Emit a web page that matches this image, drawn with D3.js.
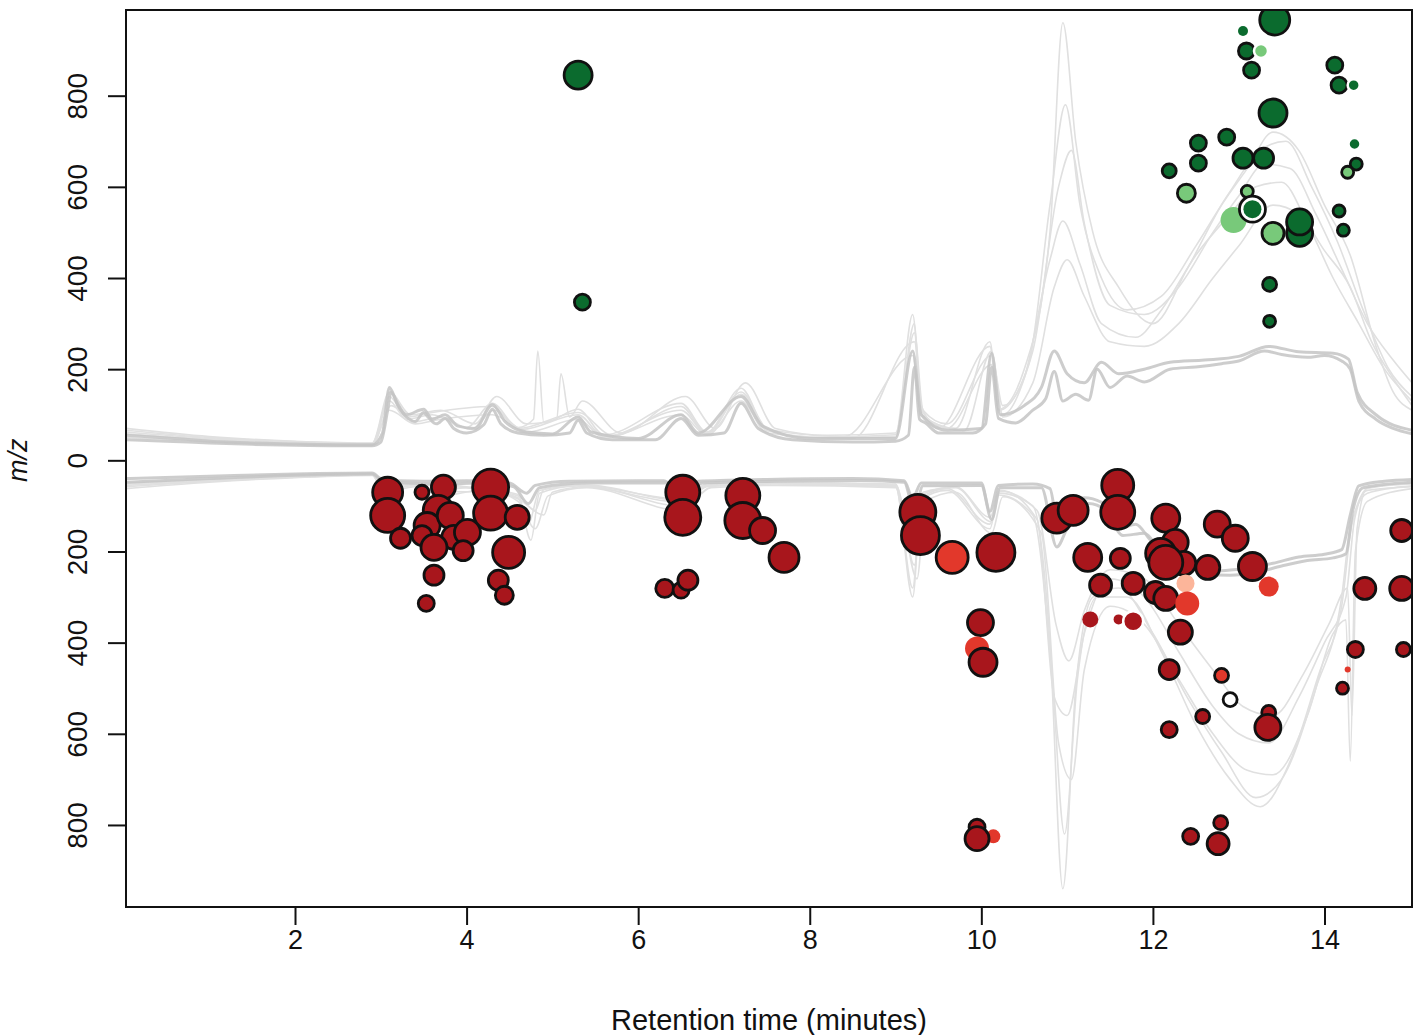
<!DOCTYPE html>
<html><head><meta charset="utf-8">
<script src="https://cdn.jsdelivr.net/npm/d3@7"></script>
<style>body{margin:0;background:#fff}svg{display:block}text{font-family:"Liberation Sans",Arial,sans-serif}</style>
</head><body>
<script>
// ---- tick labels ----
const xTicks = [2,4,6,8,10,12,14];
const yTicks = [-800,-600,-400,-200,0,200,400,600,800];

// ---- chromatogram traces (retention time, signal in m/z-axis units; negative = lower panel) ----
const upMain = [[0.03,45],[0.5,42],[1,38],[1.5,35],[2,33],[2.5,32],[2.9,32],[3.0,40],[3.08,110],[3.12,150],[3.2,120],[3.3,95],[3.4,85],[3.5,105],[3.55,95],[3.65,80],[3.75,92],[3.85,70],[4.0,60],[4.2,78],[4.3,112],[4.4,80],[4.6,60],[4.9,55],[5.2,60],[5.3,88],[5.4,60],[5.7,45],[6.2,45],[6.5,92],[6.7,55],[7.0,60],[7.2,125],[7.4,70],[7.8,45],[8.5,40],[9.0,42],[9.15,55],[9.22,205],[9.28,90],[9.35,82],[9.5,60],[9.9,60],[10.05,80],[10.12,205],[10.2,92],[10.4,82],[10.6,110],[10.75,135],[10.85,195],[10.95,130],[11.1,145],[11.25,132],[11.35,200],[11.5,160],[11.7,185],[11.9,172],[12.2,200],[12.5,205],[12.8,212],[13.0,218],[13.3,240],[13.5,232],[13.8,226],[14.0,230],[14.2,218],[14.3,200],[14.4,130],[14.6,90],[14.8,70],[15.02,58]];
const upMain2 = [[0.03,55],[0.6,48],[1.2,40],[2,36],[2.9,34],[3.02,60],[3.1,160],[3.18,130],[3.3,100],[3.5,112],[3.6,90],[3.75,100],[3.9,75],[4.1,70],[4.3,122],[4.45,85],[4.7,62],[5.0,58],[5.3,95],[5.45,62],[6.0,48],[6.5,100],[6.7,60],[7.2,140],[7.45,75],[8,48],[9.0,48],[9.2,240],[9.3,100],[9.6,66],[10.0,70],[10.12,235],[10.22,100],[10.5,120],[10.7,160],[10.85,240],[11.0,190],[11.2,170],[11.4,215],[11.6,190],[11.9,200],[12.2,215],[12.6,220],[13.0,228],[13.35,250],[13.7,238],[14.1,235],[14.28,222],[14.38,150],[14.6,100],[15.02,66]];
const upFaint = [
 [[0.03,62],[1,48],[2,40],[2.9,36],[3.1,130],[3.3,90],[3.6,100],[4.0,72],[4.3,125],[4.6,72],[4.78,90],[4.83,240],[4.9,82],[5.3,112],[5.6,56],[6.5,125],[6.8,62],[7.2,150],[7.5,70],[8,50],[9,56],[9.2,320],[9.3,120],[9.5,70],[10.1,250],[10.2,112],[10.5,200],[10.8,500],[10.95,960],[11.1,700],[11.3,500],[11.6,380],[12.0,300],[12.4,420],[12.8,560],[13.1,640],[13.4,720],[13.7,680],[14.0,560],[14.3,450],[14.6,250],[14.8,150],[15.02,110]],
 [[0.03,70],[1,52],[2,42],[2.9,38],[3.1,150],[3.35,100],[3.7,110],[4.1,80],[4.35,140],[4.7,80],[5.05,90],[5.1,190],[5.2,95],[5.35,130],[5.8,60],[6.55,140],[6.9,70],[7.25,170],[7.6,70],[8.2,55],[9,60],[9.22,280],[9.32,110],[9.6,80],[10.12,230],[10.25,120],[10.6,240],[10.9,600],[11.05,680],[11.2,520],[11.5,340],[11.9,320],[12.3,380],[12.7,500],[13.0,580],[13.3,650],[13.6,640],[13.9,540],[14.2,420],[14.5,300],[14.8,220],[15.02,170]],
 [[0.03,58],[1,46],[2,39],[2.9,35],[3.12,120],[3.4,85],[3.7,95],[4.05,68],[4.32,110],[4.65,68],[5.3,100],[5.6,52],[6.5,110],[6.8,58],[7.2,145],[7.5,65],[8.2,50],[9.0,52],[9.22,300],[9.3,110],[9.6,70],[10.12,210],[10.25,100],[10.5,180],[10.8,440],[10.95,525],[11.15,430],[11.4,300],[11.8,270],[12.1,330],[12.5,450],[12.9,540],[13.2,600],[13.5,610],[13.8,520],[14.1,400],[14.4,300],[14.7,200],[15.02,130]],
 [[0.03,50],[1,42],[2,37],[2.9,34],[3.1,110],[3.4,80],[3.7,90],[4.3,100],[4.7,62],[5.3,90],[5.6,50],[6.5,100],[6.8,55],[7.2,130],[7.5,60],[8.5,48],[9.22,260],[9.32,95],[9.8,65],[10.12,240],[10.25,95],[10.6,170],[10.85,380],[11.0,440],[11.2,360],[11.5,260],[11.9,250],[12.3,300],[12.7,400],[13.0,470],[13.4,560],[13.7,540],[14.0,460],[14.3,380],[14.55,260],[14.8,180],[15.02,120]],
 [[0.03,66],[1,50],[2,41],[2.9,37],[3.1,140],[3.3,95],[3.6,105],[4.3,118],[4.6,70],[5.3,105],[5.7,55],[6.5,118],[6.8,60],[7.2,158],[7.5,68],[8.4,52],[9.2,230],[9.3,100],[9.7,70],[10.1,260],[10.2,110],[10.55,210],[10.8,560],[10.98,780],[11.15,560],[11.4,400],[11.7,330],[12.1,360],[12.5,470],[12.9,590],[13.25,680],[13.55,700],[13.85,600],[14.15,480],[14.45,330],[14.75,200],[15.02,140]]
];
const downMain = [[0.03,-40],[1,-35],[2,-30],[2.9,-28],[3.0,-40],[3.2,-45],[3.5,-46],[4,-45],[4.5,-50],[4.7,-72],[4.8,-55],[5.2,-46],[6.3,-45],[6.5,-72],[6.7,-46],[7.5,-42],[8.5,-40],[9.1,-45],[9.2,-82],[9.3,-50],[10.0,-50],[10.1,-112],[10.2,-55],[10.6,-52],[10.8,-62],[10.9,-150],[11.0,-122],[11.2,-82],[11.4,-92],[11.6,-150],[11.8,-140],[12.0,-180],[12.2,-190],[12.5,-236],[12.8,-242],[13.1,-236],[13.4,-226],[13.7,-212],[14.0,-206],[14.2,-196],[14.3,-120],[14.4,-56],[14.7,-46],[15.02,-42]];
const downMain2 = [[0.03,-48],[1,-40],[2,-33],[2.9,-30],[3.02,-45],[3.3,-50],[3.7,-52],[4.2,-50],[4.55,-58],[4.72,-95],[4.85,-60],[5.4,-50],[6.35,-50],[6.52,-85],[6.75,-50],[7.6,-46],[8.6,-44],[9.1,-48],[9.22,-110],[9.32,-56],[10.0,-55],[10.12,-130],[10.22,-60],[10.7,-60],[10.88,-190],[11.0,-150],[11.25,-95],[11.45,-110],[11.65,-165],[11.9,-160],[12.1,-200],[12.35,-215],[12.6,-250],[12.9,-252],[13.2,-246],[13.5,-232],[13.8,-220],[14.1,-214],[14.25,-205],[14.33,-110],[14.45,-60],[15.02,-48]];
const downFaint = [
 [[0.03,-55],[1,-45],[2,-36],[2.9,-31],[3.0,-60],[3.3,-52],[3.6,-70],[4.0,-60],[4.6,-82],[4.75,-175],[4.85,-72],[5.3,-56],[6.5,-92],[6.8,-56],[7.5,-50],[9.0,-56],[9.2,-300],[9.3,-82],[9.6,-62],[10.1,-140],[10.2,-72],[10.6,-100],[10.8,-400],[10.95,-940],[11.1,-500],[11.3,-300],[11.6,-280],[12.0,-380],[12.4,-520],[12.8,-640],[13.2,-740],[13.5,-700],[13.9,-500],[14.2,-300],[14.3,-150],[14.5,-72],[15.02,-56]],
 [[0.03,-62],[1,-48],[2,-38],[2.9,-33],[3.05,-70],[3.4,-58],[3.8,-75],[4.2,-64],[4.6,-90],[4.8,-150],[4.95,-78],[5.4,-60],[6.5,-110],[6.85,-60],[7.6,-55],[9.0,-60],[9.25,-260],[9.35,-90],[9.7,-70],[10.12,-160],[10.25,-80],[10.7,-160],[10.9,-620],[11.05,-700],[11.2,-460],[11.5,-320],[11.9,-360],[12.3,-480],[12.7,-600],[13.1,-680],[13.4,-690],[13.8,-560],[14.1,-380],[14.25,-350],[14.3,-660],[14.36,-200],[14.5,-90],[15.02,-62]],
 [[0.03,-50],[1,-42],[2,-34],[2.9,-30],[3.1,-55],[3.5,-50],[4.0,-58],[4.6,-75],[4.72,-140],[4.85,-66],[5.3,-54],[6.5,-85],[6.8,-52],[7.5,-48],[9.0,-52],[9.22,-230],[9.32,-74],[9.7,-58],[10.1,-125],[10.22,-66],[10.65,-130],[10.85,-520],[11.0,-560],[11.2,-380],[11.5,-260],[11.9,-300],[12.3,-420],[12.7,-540],[13.0,-600],[13.35,-620],[13.7,-520],[14.0,-400],[14.25,-300],[14.35,-130],[14.5,-62],[15.02,-50]],
 [[0.03,-58],[1,-46],[2,-37],[2.9,-32],[3.05,-65],[3.4,-55],[3.7,-68],[4.3,-70],[4.6,-85],[4.9,-120],[5.0,-70],[5.4,-58],[6.5,-100],[6.8,-58],[7.6,-52],[9.0,-58],[9.2,-280],[9.3,-86],[9.6,-66],[10.1,-150],[10.2,-76],[10.6,-120],[10.82,-460],[10.97,-820],[11.12,-480],[11.35,-300],[11.7,-300],[12.1,-420],[12.5,-580],[12.9,-700],[13.25,-760],[13.6,-660],[13.95,-460],[14.2,-320],[14.32,-140],[14.5,-66],[15.02,-58]],
 [[0.03,-52],[1,-43],[2,-35],[2.9,-30],[3.1,-58],[3.5,-54],[4.0,-60],[4.6,-78],[4.8,-110],[4.9,-64],[5.4,-54],[6.5,-88],[6.8,-54],[7.5,-50],[9.0,-54],[9.22,-200],[9.32,-70],[9.7,-60],[10.12,-135],[10.22,-68],[10.65,-110],[10.87,-360],[11.02,-440],[11.2,-330],[11.5,-240],[11.9,-260],[12.3,-360],[12.7,-460],[13.05,-540],[13.4,-560],[13.75,-470],[14.05,-360],[14.27,-280],[14.32,-560],[14.38,-150],[14.5,-60],[15.02,-52]]
];

// ---- features (retention time, m/z sign = mode, abundance, colour class, edge) ----
// colour class: G dark green, g light green, R dark red, r mid red, s salmon, w white
// edge: 1 black outline, 0 none, 2 white ring
const greenFeatures = [
 {t:5.30,mz:845,ab:14,c:"G",e:1},{t:5.35,mz:347,ab:8,c:"G",e:1},
 {t:13.42,mz:966,ab:15,c:"G",e:1},{t:13.05,mz:942,ab:5,c:"G",e:0},{t:13.09,mz:898,ab:8,c:"G",e:1},
 {t:13.26,mz:898,ab:7,c:"g",e:2},{t:13.15,mz:856,ab:8,c:"G",e:1},{t:14.12,mz:867,ab:8,c:"G",e:1},
 {t:14.17,mz:823,ab:8,c:"G",e:1},{t:14.34,mz:823,ab:6,c:"G",e:2},{t:13.40,mz:762,ab:14,c:"G",e:1},
 {t:12.53,mz:696,ab:8,c:"G",e:1},{t:12.86,mz:709,ab:8,c:"G",e:1},{t:12.53,mz:652,ab:8,c:"G",e:1},
 {t:13.05,mz:663,ab:10,c:"G",e:1},{t:13.29,mz:663,ab:10,c:"G",e:1},{t:12.19,mz:635,ab:7,c:"G",e:1},
 {t:14.35,mz:694,ab:6,c:"G",e:2},{t:14.37,mz:650,ab:6,c:"G",e:1},{t:14.27,mz:632,ab:6,c:"g",e:1},
 {t:12.39,mz:586,ab:9,c:"g",e:1},{t:13.10,mz:590,ab:6,c:"g",e:1},
 {t:12.94,mz:527,ab:13,c:"g",e:0},{t:13.16,mz:551,ab:13,c:"w",e:1},{t:13.16,mz:551,ab:9,c:"G",e:0},
 {t:13.40,mz:498,ab:11,c:"g",e:1},{t:13.71,mz:498,ab:13,c:"G",e:1},{t:13.71,mz:523,ab:13,c:"G",e:1},
 {t:14.17,mz:547,ab:6,c:"G",e:1},{t:14.22,mz:505,ab:6,c:"G",e:1},
 {t:13.36,mz:386,ab:7,c:"G",e:1},{t:13.36,mz:305,ab:6,c:"G",e:1}
];
const redFeatures = [
 {t:3.08,mz:-70,ab:15,c:"R",e:1},{t:3.08,mz:-121,ab:17,c:"R",e:1},{t:3.23,mz:-171,ab:10,c:"R",e:1},
 {t:3.48,mz:-70,ab:7,c:"R",e:1},{t:3.73,mz:-59,ab:12,c:"R",e:1},{t:3.67,mz:-110,ab:15,c:"R",e:1},
 {t:3.54,mz:-143,ab:13,c:"R",e:1},{t:3.81,mz:-121,ab:13,c:"R",e:1},{t:3.48,mz:-165,ab:10,c:"R",e:1},
 {t:3.85,mz:-169,ab:12,c:"R",e:1},{t:3.62,mz:-191,ab:13,c:"R",e:1},{t:3.62,mz:-252,ab:10,c:"R",e:1},
 {t:3.53,mz:-314,ab:8,c:"R",e:1},{t:4.01,mz:-158,ab:13,c:"R",e:1},{t:3.96,mz:-198,ab:10,c:"R",e:1},
 {t:4.28,mz:-59,ab:18,c:"R",e:1},{t:4.28,mz:-116,ab:17,c:"R",e:1},{t:4.59,mz:-125,ab:12,c:"R",e:1},
 {t:4.49,mz:-202,ab:16,c:"R",e:1},{t:4.37,mz:-263,ab:10,c:"R",e:1},{t:4.44,mz:-296,ab:9,c:"R",e:1},
 {t:6.52,mz:-70,ab:17,c:"R",e:1},{t:6.52,mz:-125,ab:18,c:"R",e:1},{t:6.31,mz:-281,ab:9,c:"R",e:1},
 {t:6.50,mz:-285,ab:8,c:"R",e:1},{t:6.58,mz:-263,ab:10,c:"R",e:1},
 {t:7.22,mz:-77,ab:17,c:"R",e:1},{t:7.22,mz:-132,ab:18,c:"R",e:1},{t:7.45,mz:-154,ab:13,c:"R",e:1},
 {t:7.70,mz:-213,ab:15,c:"R",e:1},
 {t:9.26,mz:-114,ab:18,c:"R",e:1},{t:9.29,mz:-165,ab:19,c:"R",e:1},{t:9.66,mz:-213,ab:16,c:"r",e:1},
 {t:10.17,mz:-202,ab:19,c:"R",e:1},{t:9.99,mz:-356,ab:13,c:"R",e:1},{t:9.95,mz:-413,ab:12,c:"r",e:0},
 {t:10.02,mz:-443,ab:14,c:"R",e:1},
 {t:10.88,mz:-127,ab:15,c:"R",e:1},{t:11.07,mz:-110,ab:15,c:"R",e:1},{t:11.59,mz:-55,ab:16,c:"R",e:1},
 {t:11.59,mz:-114,ab:17,c:"R",e:1},{t:11.24,mz:-213,ab:14,c:"R",e:1},{t:11.62,mz:-215,ab:10,c:"R",e:1},
 {t:11.39,mz:-274,ab:11,c:"R",e:1},{t:11.77,mz:-270,ab:11,c:"R",e:1},{t:11.27,mz:-349,ab:8,c:"R",e:0},
 {t:11.60,mz:-349,ab:5,c:"R",e:0},{t:11.77,mz:-353,ab:10,c:"R",e:2},
 {t:12.15,mz:-127,ab:14,c:"R",e:1},{t:12.75,mz:-140,ab:13,c:"R",e:1},{t:12.96,mz:-171,ab:13,c:"R",e:1},
 {t:12.26,mz:-180,ab:13,c:"R",e:1},{t:12.09,mz:-204,ab:15,c:"R",e:1},{t:12.36,mz:-226,ab:12,c:"R",e:1},
 {t:12.64,mz:-235,ab:12,c:"R",e:1},{t:13.16,mz:-233,ab:14,c:"R",e:1},{t:12.15,mz:-224,ab:17,c:"R",e:1},
 {t:12.03,mz:-290,ab:11,c:"R",e:1},{t:12.15,mz:-303,ab:12,c:"R",e:1},{t:12.38,mz:-270,ab:9,c:"s",e:0},
 {t:12.40,mz:-314,ab:12,c:"r",e:0},{t:13.35,mz:-277,ab:10,c:"r",e:0},
 {t:12.32,mz:-377,ab:12,c:"R",e:1},{t:12.19,mz:-459,ab:10,c:"R",e:1},{t:12.80,mz:-472,ab:7,c:"r",e:1},
 {t:12.90,mz:-525,ab:7,c:"w",e:1},{t:12.58,mz:-562,ab:7,c:"R",e:1},{t:12.19,mz:-591,ab:8,c:"R",e:1},
 {t:13.35,mz:-553,ab:7,c:"R",e:1},{t:13.34,mz:-586,ab:13,c:"R",e:1},
 {t:14.90,mz:-154,ab:11,c:"R",e:1},{t:14.47,mz:-281,ab:11,c:"R",e:1},{t:14.90,mz:-281,ab:12,c:"R",e:1},
 {t:14.36,mz:-415,ab:8,c:"R",e:1},{t:14.92,mz:-415,ab:7,c:"R",e:1},{t:14.27,mz:-459,ab:3,c:"r",e:0},
 {t:14.21,mz:-500,ab:6,c:"R",e:1},
 {t:9.95,mz:-805,ab:8,c:"R",e:1},{t:10.14,mz:-825,ab:7,c:"r",e:0},{t:9.95,mz:-830,ab:12,c:"R",e:1},
 {t:12.44,mz:-825,ab:8,c:"R",e:1},{t:12.79,mz:-795,ab:7,c:"R",e:1},{t:12.76,mz:-841,ab:11,c:"R",e:1}
];
const colourClasses = ["G","g","R","r","s","w"];
const colourValues = ["#0b6b2e","#78c97a","#a8161c","#e2382b","#fcb59a","#ffffff"];

// ---- drawing ----
const W = 1418, H = 1035;
const m = {left:126, top:10, right:1412, bottom:907};
const svg = d3.select("body").append("svg").attr("width",W).attr("height",H);
const x = d3.scaleLinear().domain([0.03,15.02]).range([m.left,m.right]);
const y = d3.scaleLinear().domain([-980,988]).range([m.bottom,m.top]);
const rScale = d3.scaleLinear().domain([0,20]).range([0,20]);
const colour = d3.scaleOrdinal().domain(colourClasses).range(colourValues);

svg.append("clipPath").attr("id","clip").append("rect")
  .attr("x",m.left).attr("y",m.top).attr("width",m.right-m.left).attr("height",m.bottom-m.top);
const plot = svg.append("g").attr("clip-path","url(#clip)");
const line = d3.line().x(d=>x(d[0])).y(d=>y(d[1])).curve(d3.curveMonotoneX);

plot.selectAll(".fu").data(upFaint.concat(downFaint)).join("path").attr("class","fu")
  .attr("d",line).attr("fill","none").attr("stroke","#e0e0e0").attr("stroke-width",1.6).attr("stroke-linejoin","round");
plot.selectAll(".mu").data([upMain,upMain2,downMain,downMain2]).join("path").attr("class","mu")
  .attr("d",line).attr("fill","none").attr("stroke","#c4c4c4").attr("stroke-width",3).attr("stroke-opacity",0.85).attr("stroke-linejoin","round");

const pts = greenFeatures.concat(redFeatures);
plot.selectAll("circle").data(pts).join("circle")
  .attr("cx",d=>x(d.t)).attr("cy",d=>y(d.mz)).attr("r",d=>rScale(d.ab))
  .attr("fill",d=>colour(d.c))
  .attr("stroke",d=>d.e===1?"#111":(d.e===2?"#fff":"none"))
  .attr("stroke-width",d=>d.e===2?2.5:2.8);

// axes
const xAxis = svg.append("g").attr("transform",`translate(0,${m.bottom})`)
  .call(d3.axisBottom(x).tickValues(xTicks).tickSize(18).tickSizeOuter(0).tickFormat(d3.format("d")));
xAxis.select(".domain").remove();
xAxis.selectAll("line").attr("stroke","#111").attr("stroke-width",2);
xAxis.selectAll("text").attr("y",23).attr("dy","0.71em").attr("font-size",27).attr("fill","#111");

const yAxis = svg.append("g").attr("transform",`translate(${m.left},0)`)
  .call(d3.axisLeft(y).tickValues(yTicks).tickSize(18).tickSizeOuter(0).tickFormat(d=>Math.abs(d)));
yAxis.select(".domain").remove();
yAxis.selectAll("line").attr("stroke","#111").attr("stroke-width",2);
yAxis.selectAll("text").attr("x",0).attr("y",0).attr("dy","0.35em")
  .attr("transform","translate(-49,0) rotate(-90)").attr("text-anchor","middle")
  .attr("font-size",28).attr("fill","#111");

svg.append("rect").attr("x",m.left).attr("y",m.top).attr("width",m.right-m.left).attr("height",m.bottom-m.top)
  .attr("fill","none").attr("stroke","#111").attr("stroke-width",2);

svg.append("text").attr("x",(m.left+m.right)/2).attr("y",1030).attr("text-anchor","middle")
  .attr("font-size",29).attr("fill","#111").text("Retention time (minutes)");
svg.append("text").attr("transform",`translate(27,${y(0)}) rotate(-90)`).attr("text-anchor","middle")
  .attr("font-size",27).attr("font-style","italic").attr("fill","#111").text("m/z");
</script>
</body></html>
